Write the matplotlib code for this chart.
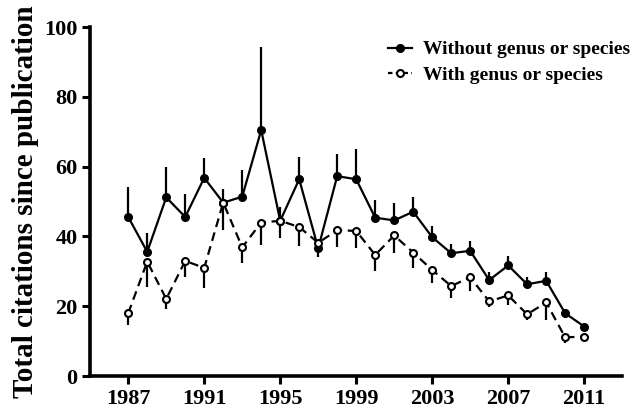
import matplotlib
matplotlib.use("Agg")
import matplotlib.pyplot as plt
from matplotlib.lines import Line2D
import numpy as np

years = list(range(1987, 2012))
without_mean = [45.6, 35.6, 51.2, 45.6, 56.8, 49.7, 51.4, 70.5, 44.5, 56.4, 36.6, 57.3, 56.4,
                45.4, 44.6, 47.1, 39.8, 35.2, 35.9, 27.5, 31.7, 26.3, 27.3, 18.0, 14.2]
without_upper = [54.2, 40.9, 60.0, 52.3, 62.4, 53.5, 59.0, 94.2, 48.4, 62.7, 38.5, 63.5, 65.0,
                 50.4, 49.7, 51.4, 43.0, 37.8, 38.7, 29.9, 34.5, 28.3, 29.7, 18.8, 14.6]
with_mean = [18.0, 32.8, 22.1, 33.0, 31.0, 49.7, 36.9, 44.0, 44.5, 42.7, 38.2, 41.8, 41.6,
             34.7, 40.3, 35.4, 30.4, 25.8, 28.3, 21.4, 23.1, 17.7, 21.1, 11.1, 11.3]
with_lower = [14.6, 25.6, 19.1, 28.5, 25.1, 41.8, 32.3, 37.7, 39.5, 37.2, 34.2, 36.9, 36.6,
              30.2, 35.3, 30.9, 26.6, 22.4, 24.4, 19.7, 20.3, 16.2, 16.2, 9.5, 10.6]
xticks = [1987, 1991, 1995, 1999, 2003, 2007, 2011]
yticks = [0, 20, 40, 60, 80, 100]

plt.rcParams['font.family'] = ['Liberation Serif', 'DejaVu Serif']
plt.rcParams['font.weight'] = 'bold'

fig = plt.figure(figsize=(6.31, 4.11), dpi=100)
ax = fig.add_axes([0.143, 0.085, 0.843, 0.849])

wm = np.array(without_mean); wu = np.array(without_upper)
gm = np.array(with_mean); gl = np.array(with_lower)

ax.errorbar(years, wm, yerr=[np.zeros_like(wm), wu - wm], fmt='-o', color='black',
            lw=1.6, ms=5.5, elinewidth=1.6, capsize=0, mfc='black', mec='black', zorder=3)
ax.errorbar(years, gm, yerr=[gm - gl, np.zeros_like(gm)], fmt='--o', color='black',
            lw=1.6, ms=5, elinewidth=1.6, capsize=0, mfc='white', mec='black', mew=1.5,
            dashes=(4, 2.5), zorder=4)

ax.set_xlim(1985, 2013)
ax.set_ylim(0, 100)
ax.set_xticks(xticks)
ax.set_yticks(yticks)
ax.tick_params(axis='both', direction='out', length=6, width=2.2, labelsize=16, pad=3)
for lab in ax.get_xticklabels() + ax.get_yticklabels():
    lab.set_fontweight('bold')
for s in ['top', 'right']:
    ax.spines[s].set_visible(False)
for s in ['left', 'bottom']:
    ax.spines[s].set_linewidth(2.6)

ax.set_ylabel('Total citations since publication', fontsize=21, fontweight='bold', labelpad=4)

handles = [
    Line2D([], [], color='black', lw=1.6, marker='o', ms=5.5, mfc='black', mec='black'),
    Line2D([], [], color='black', lw=1.6, ls='--', dashes=(2, 1.5), marker='o', ms=5,
           mfc='white', mec='black', mew=1.5),
]
labels = ['Without genus or species', 'With genus or species']
leg = ax.legend(handles, labels, loc='upper left', bbox_to_anchor=(0.535, 1.0), frameon=False,
                handlelength=1.2, handletextpad=0.6, labelspacing=0.4, borderpad=0.2,
                prop={'family': 'Liberation Serif', 'weight': 'bold', 'size': 14})

fig.savefig('out.png', dpi=100)
